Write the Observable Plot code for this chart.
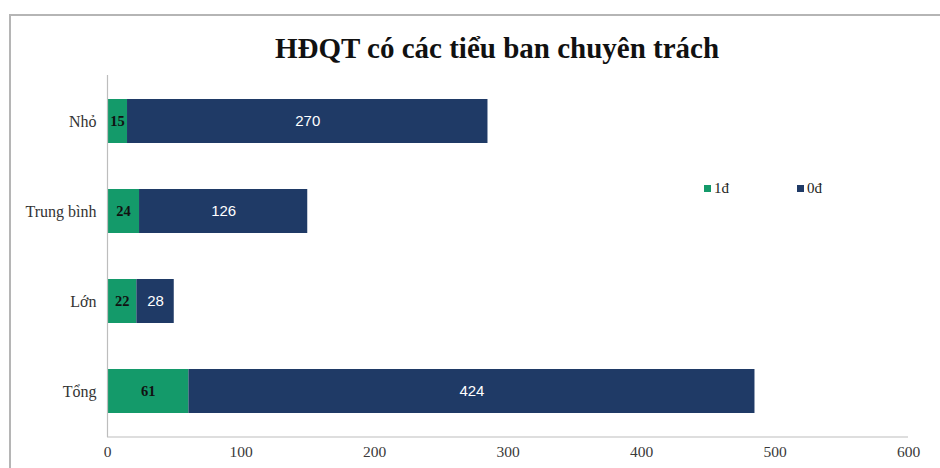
<!DOCTYPE html>
<html>
<head>
<meta charset="utf-8">
<script src="https://cdn.jsdelivr.net/npm/d3@7"></script>
<script src="https://cdn.jsdelivr.net/npm/@observablehq/plot@0.6"></script>
<style>
  html, body { margin: 0; padding: 0; background: #fff; }
  #wrap { position: relative; width: 940px; height: 468px; overflow: hidden; background: #fff; }
  #border { position: absolute; left: 9px; top: 14px; width: 1000px; height: 1000px; border-left: 2px solid #b5b5b5; border-top: 2px solid #b5b5b5; box-sizing: border-box; }
  #title { position: absolute; left: 54px; width: 886px; top: 32px; text-align: center; font-family: "Liberation Serif", "DejaVu Serif", serif; font-weight: bold; font-size: 29px; color: #111; }
  #legend { position: absolute; top: 180px; left: 704px; font-family: "Liberation Serif", serif; font-size: 15px; color: #222; }
  .li { position: absolute; white-space: nowrap; display: flex; align-items: center; }
  .sw { display: inline-block; width: 7px; height: 7px; margin-right: 3px; }
  #chart { position: absolute; left: 0; top: 0; }
  #chart svg text.serif { font-family: "Liberation Serif", serif !important; }
</style>
</head>
<body>
<div id="wrap">
  <div id="border"></div>
  <div id="chart"></div>
  <div id="title">HĐQT có các tiểu ban chuyên trách</div>
  <div id="legend"></div>
</div>
<script>
const categories = ["Nhỏ", "Trung bình", "Lớn", "Tổng"];
const seriesNames = ["1đ", "0đ"];
const values1d = [15, 24, 22, 61];
const values0d = [270, 126, 28, 424];
const xTicks = [0, 100, 200, 300, 400, 500, 600];
const colors = ["#149a6a", "#1f3a66"];

const rows = [];
categories.forEach((c, i) => {
  rows.push({cat: c, series: seriesNames[0], value: values1d[i]});
  rows.push({cat: c, series: seriesNames[1], value: values0d[i]});
});

const serif = "'Liberation Serif', serif";
const plot = Plot.plot({
  width: 940,
  height: 468,
  marginLeft: 107,
  marginRight: 32,
  marginTop: 75,
  marginBottom: 31,
  style: {background: "transparent", overflow: "visible", fontFamily: serif, fontSize: "14px", color: "#333"},
  x: {domain: [0, 600], ticks: xTicks, tickSize: 0, tickPadding: 8, label: null},
  y: {domain: categories, paddingInner: 0.51, paddingOuter: 0.255, tickSize: 0, tickPadding: 11, label: null},
  color: {domain: seriesNames, range: colors},
  marks: [
    Plot.barX(rows, Plot.stackX({x: "value", y: "cat", fill: "series", order: seriesNames})),
    Plot.ruleX([0], {stroke: "#bdbdbd", strokeWidth: 1.2}),
    Plot.axisX({ticks: xTicks, tickSize: 0, tickPadding: 8, fontSize: 15.5, fill: "#3a3a3a", label: null}),
    Plot.axisY({tickSize: 0, tickPadding: 11, fontSize: 16, fill: "#333", label: null}),
    Plot.textX(rows.filter(d => d.series === "1đ"), Plot.stackX({x: "value", y: "cat", z: "series", text: d => String(d.value), order: seriesNames, fill: "#111", fontWeight: "bold", fontSize: 14.5})),
    Plot.textX(rows, Plot.stackX({x: "value", y: "cat", z: "series", order: seriesNames, text: d => d.series === "0đ" ? String(d.value) : "", fill: "#fff", fontFamily: "Liberation Sans, Arial, sans-serif", fontSize: 15}))
  ]
});

plot.querySelectorAll("text").forEach(t => {
  const g = t.closest("g");
  const fam = (g && g.getAttribute("font-family")) || "";
  if (!/Sans/.test(fam)) t.setAttribute("class", "serif");
});

const xs = plot.scale("x");
d3.select(plot).append("line")
  .attr("x1", xs.apply(0)).attr("x2", xs.apply(600))
  .attr("y1", 468 - 31).attr("y2", 468 - 31)
  .attr("stroke", "#bdbdbd").attr("stroke-width", 1.2);

document.getElementById("chart").appendChild(plot);

const legend = document.getElementById("legend");
seriesNames.forEach((s, i) => {
  const el = document.createElement("div");
  el.className = "li";
  el.style.left = (i * 93) + "px";
  el.innerHTML = `<span class="sw" style="background:${colors[i]}"></span><span>${s}</span>`;
  legend.appendChild(el);
});
</script>
</body>
</html>
